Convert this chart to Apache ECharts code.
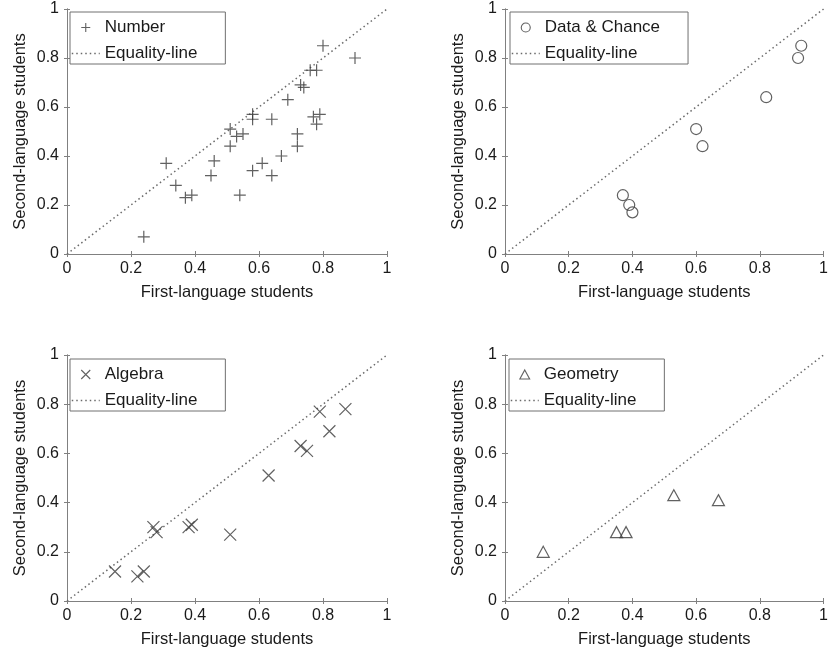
<!DOCTYPE html>
<html><head><meta charset="utf-8">
<script src="https://cdn.jsdelivr.net/npm/echarts@6/dist/echarts.min.js"></script>
<style>html,body{margin:0;padding:0;background:#fff}#c{width:831px;height:654px}</style>
</head><body><div id="c"></div>
<script>
// ---- data (x = first-language students, y = second-language students) ----
const axisTicks = [0, 0.2, 0.4, 0.6, 0.8, 1];
const panelNames = ['Number', 'Data & Chance', 'Algebra', 'Geometry'];
const xAxisTitle = 'First-language students';
const yAxisTitle = 'Second-language students';
const equalityLine = [[0, 0], [1, 1]];

const numberData = [
  [0.24,0.07],[0.31,0.37],[0.34,0.28],[0.37,0.23],[0.39,0.24],[0.45,0.32],
  [0.46,0.38],[0.51,0.44],[0.51,0.51],[0.53,0.48],[0.55,0.49],[0.54,0.24],
  [0.58,0.34],[0.58,0.55],[0.58,0.57],[0.61,0.37],[0.64,0.32],[0.64,0.55],
  [0.67,0.40],[0.69,0.63],[0.72,0.44],[0.72,0.49],[0.73,0.69],[0.74,0.68],
  [0.76,0.75],[0.78,0.75],[0.77,0.56],[0.78,0.53],[0.79,0.57],[0.80,0.85],
  [0.90,0.80]
];
const dataChanceData = [
  [0.37,0.24],[0.39,0.20],[0.40,0.17],[0.60,0.51],[0.62,0.44],[0.82,0.64],
  [0.92,0.80],[0.93,0.85]
];
const algebraData = [
  [0.15,0.12],[0.22,0.10],[0.24,0.12],[0.27,0.30],[0.28,0.28],[0.38,0.30],
  [0.39,0.31],[0.51,0.27],[0.63,0.51],[0.73,0.63],[0.75,0.61],[0.79,0.77],
  [0.82,0.69],[0.87,0.78]
];
const geometryData = [
  [0.12,0.20],[0.35,0.28],[0.38,0.28],[0.53,0.43],[0.67,0.41]
];
const panelData = [numberData, dataChanceData, algebraData, geometryData];

// ---- styling / layout ----
const FONT = 'Liberation Sans, Arial, sans-serif';
const symbols = ['path://M0,6L12,6M6,0L6,12', 'circle', 'path://M0,0L12,12M12,0L0,12', 'path://M6,0L12,11L0,11Z'];
const symbolSizes = [12, 11, 12, 12];
const grids = [
  {left: 67, top: 9, width: 320, height: 245},
  {left: 505, top: 9, width: 320, height: 245},
  {left: 67, top: 355, width: 320, height: 246},
  {left: 505, top: 355, width: 320, height: 246}
];
const legendPos = [[70, 12], [510, 12], [70, 359], [509, 359]];
const AXC = '#808080';

const xAxes = [], yAxes = [], series = [], legends = [];
grids.forEach((g, i) => {
  const base = {
    type: 'value', gridIndex: i, min: axisTicks[0], max: axisTicks[axisTicks.length - 1],
    interval: axisTicks[1] - axisTicks[0],
    splitLine: {show: false},
    axisLine: {show: true, lineStyle: {color: AXC, width: 1}},
    axisTick: {show: true, inside: true, length: 3, lineStyle: {color: AXC}},
  };
  xAxes.push(Object.assign({}, base, {
    position: 'bottom', name: xAxisTitle, nameLocation: 'middle', nameGap: 30,
    nameTextStyle: {fontFamily: FONT, fontSize: 16.5, color: '#1a1a1a'},
    axisLabel: {fontFamily: FONT, fontSize: 16, color: '#1a1a1a', margin: 7}
  }));
  xAxes.push(Object.assign({}, base, {position: 'top', axisLabel: {show: false}}));
  yAxes.push(Object.assign({}, base, {
    position: 'left', name: yAxisTitle, nameLocation: 'middle', nameGap: 38,
    nameTextStyle: {fontFamily: FONT, fontSize: 16.5, color: '#1a1a1a'},
    axisLabel: {fontFamily: FONT, fontSize: 16, color: '#1a1a1a', margin: 8}
  }));
  yAxes.push(Object.assign({}, base, {position: 'right', axisLabel: {show: false}}));

  series.push({
    name: panelNames[i], type: 'scatter', xAxisIndex: 2 * i, yAxisIndex: 2 * i,
    data: panelData[i], symbol: symbols[i], symbolSize: symbolSizes[i],
    symbolKeepAspect: true,
    itemStyle: {color: 'transparent', borderColor: '#3a3a3a', borderWidth: 1.2},
    emphasis: {disabled: true}, z: 3
  });
  series.push({
    name: 'Equality-line', type: 'line', xAxisIndex: 2 * i, yAxisIndex: 2 * i,
    data: equalityLine, symbol: 'none', silent: true,
    itemStyle: {color: 'transparent', borderColor: 'transparent', borderWidth: 0},
    lineStyle: {color: '#6a6a6a', width: 1.5, type: [1.5, 3]}, z: 2
  });
  legends.push({
    data: [{name: panelNames[i]}, {name: 'Equality-line'}],
    orient: 'vertical', left: legendPos[i][0], top: legendPos[i][1],
    itemWidth: 28, itemHeight: 9, itemGap: 9, padding: [7, 28, 2, 1],
    borderColor: '#707070', borderWidth: 1, backgroundColor: '#fff',
    selectedMode: false,
    textStyle: {fontFamily: FONT, fontSize: 17, color: '#1a1a1a'},
    itemStyle: {borderWidth: 1.1},
    lineStyle: {width: 1.5}
  });
});

const chart = echarts.init(document.getElementById('c'), null, {renderer: 'canvas'});
chart.setOption({
  animation: false, backgroundColor: '#fff',
  grid: grids, xAxis: xAxes, yAxis: yAxes, series: series, legend: legends
});
</script></body></html>
